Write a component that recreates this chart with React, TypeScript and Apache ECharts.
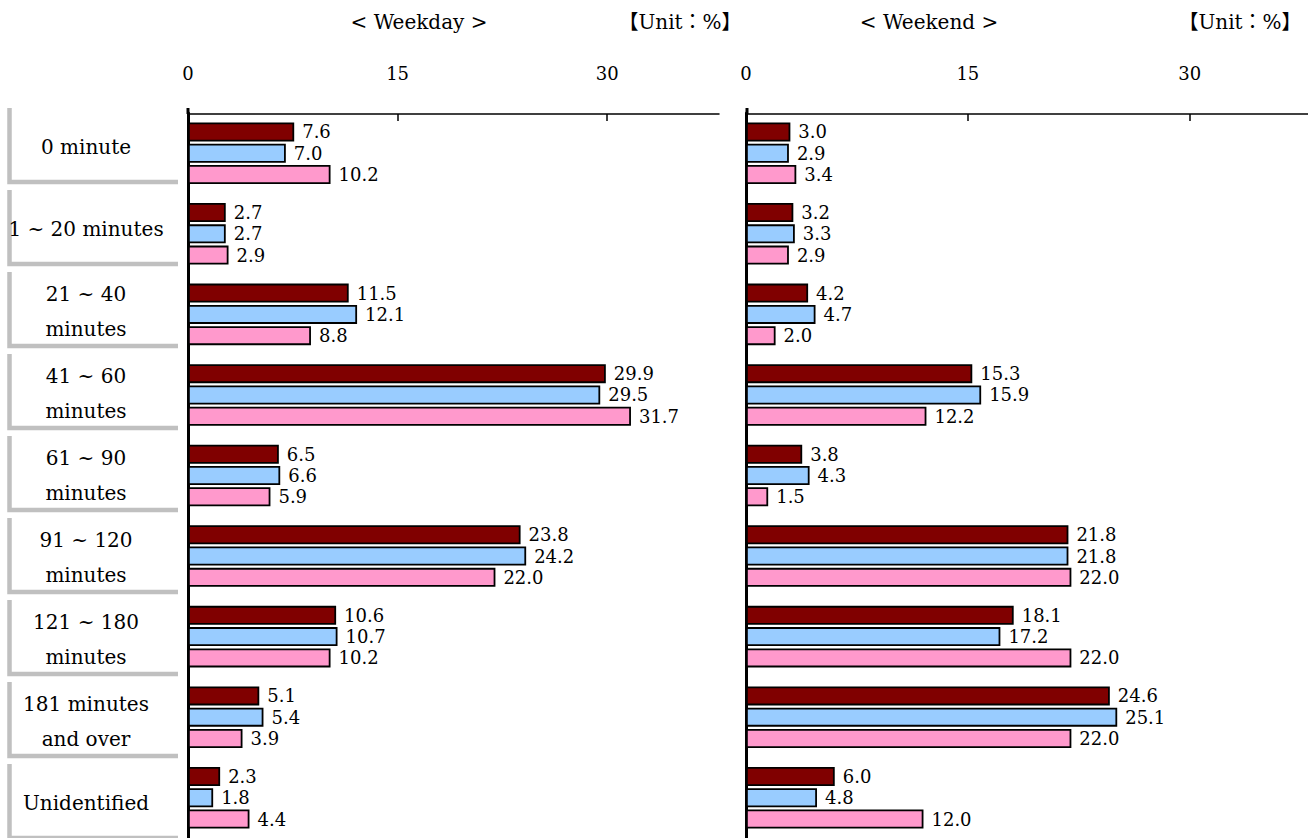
import React, { useEffect, useRef } from "react";
import * as echarts from "echarts";

// Category labels (top to bottom)
const categories = [
  "0 minute",
  "1 ~ 20 minutes",
  "21 ~ 40\nminutes",
  "41 ~ 60\nminutes",
  "61 ~ 90\nminutes",
  "91 ~ 120\nminutes",
  "121 ~ 180\nminutes",
  "181 minutes\nand over",
  "Unidentified",
];

// Weekday values (%)
const weekdayA = [7.6, 2.7, 11.5, 29.9, 6.5, 23.8, 10.6, 5.1, 2.3];
const weekdayB = [7.0, 2.7, 12.1, 29.5, 6.6, 24.2, 10.7, 5.4, 1.8];
const weekdayC = [10.2, 2.9, 8.8, 31.7, 5.9, 22.0, 10.2, 3.9, 4.4];

// Weekend values (%)
const weekendA = [3.0, 3.2, 4.2, 15.3, 3.8, 21.8, 18.1, 24.6, 6.0];
const weekendB = [2.9, 3.3, 4.7, 15.9, 4.3, 21.8, 17.2, 25.1, 4.8];
const weekendC = [3.4, 2.9, 2.0, 12.2, 1.5, 22.0, 22.0, 22.0, 12.0];

const tickValues = [0, 15, 30];
const axisMax = 38;
const panelTitles = ["< Weekday >", "< Weekend >"];
const unitText = "【Unit：%】";
const seriesColors = ["#800000", "#99ccff", "#ff99cc"];

const FONT = "'DejaVu Serif', 'Noto Sans CJK JP', serif";

export default function App() {
  const ref = useRef<HTMLDivElement>(null);

  useEffect(() => {
    document.body.style.margin = "0";
    if (!ref.current) return;
    const chart = echarts.init(ref.current, null, { renderer: "svg" });

    const grids = [
      { left: 188, top: 113, width: 531, height: 729 },
      { left: 746, top: 113, width: 563, height: 729 },
    ];

    const xAxes = grids.map((_, i) => ({
      type: "value",
      gridIndex: i,
      position: "top",
      min: 0,
      max: axisMax,
      interval: 15,
      offset: -1,
      splitLine: { show: false },
      axisLine: { show: true, lineStyle: { color: "#000", width: 1.5 } },
      axisTick: {
        show: true,
        inside: true,
        length: 7,
        customValues: tickValues.filter((v) => v > 0),
        lineStyle: { color: "#000", width: 1.5 },
      },
      axisLabel: {
        customValues: tickValues,
        margin: 32,
        fontFamily: FONT,
        fontSize: 18,
        color: "#000",
      },
    }));

    const yAxes = grids.map((_, i) => ({
      type: "category",
      gridIndex: i,
      inverse: true,
      data: categories,
      axisLine: { show: true, lineStyle: { color: "#000", width: 3 } },
      axisTick: { show: false },
      axisLabel: { show: false },
      splitLine: { show: false },
    }));

    const makeSeries = (name: string, data: number[], color: string, idx: number) => ({
      name,
      type: "bar",
      xAxisIndex: idx,
      yAxisIndex: idx,
      data,
      barWidth: 19,
      barGap: "12%",
      itemStyle: { color, borderColor: "#000", borderWidth: 1.8 },
      label: {
        show: true,
        position: "right",
        distance: 8,
        fontFamily: FONT,
        fontSize: 18,
        color: "#000",
        formatter: (p: any) => Number(p.value).toFixed(1),
      },
    });

    const series = [
      makeSeries("Weekday A", weekdayA, seriesColors[0], 0),
      makeSeries("Weekday B", weekdayB, seriesColors[1], 0),
      makeSeries("Weekday C", weekdayC, seriesColors[2], 0),
      makeSeries("Weekend A", weekendA, seriesColors[0], 1),
      makeSeries("Weekend B", weekendB, seriesColors[1], 1),
      makeSeries("Weekend C", weekendC, seriesColors[2], 1),
    ];

    // Category labels with grey brackets on the left
    const labelGraphics: any[] = [];
    categories.forEach((c, i) => {
      const top = 108 + i * 82;
      const bottom = 182 + i * 82;
      labelGraphics.push({
        type: "polyline",
        shape: { points: [[9.5, top], [9.5, bottom], [178, bottom]] },
        style: { stroke: "#c0c0c0", lineWidth: 4.5, fill: null },
        silent: true,
      });
      labelGraphics.push({
        type: "text",
        x: 86,
        y: 147 + i * 82,
        style: {
          text: c,
          font: `20px ${FONT}`,
          fill: "#000",
          align: "center",
          verticalAlign: "middle",
          lineHeight: 35,
        },
        silent: true,
      });
    });

    const headerGraphics = [
      { x: 419, text: panelTitles[0] },
      { x: 680, text: unitText },
      { x: 929, text: panelTitles[1] },
      { x: 1240, text: unitText },
    ].map((h) => ({
      type: "text",
      x: h.x,
      y: 22,
      style: {
        text: h.text,
        font: `20px ${FONT}`,
        fill: "#000",
        align: "center",
        verticalAlign: "middle",
      },
      silent: true,
    }));

    // short stubs of the vertical axes above the top axis line
    const stubs = [188, 747].map((x) => ({
      type: "line",
      shape: { x1: x, y1: 108, x2: x, y2: 114 },
      style: { stroke: "#000", lineWidth: 3 },
      silent: true,
    }));

    chart.setOption({
      animation: false,
      backgroundColor: "#fff",
      grid: grids,
      xAxis: xAxes,
      yAxis: yAxes,
      series,
      graphic: [...labelGraphics, ...headerGraphics, ...stubs],
    });

    return () => chart.dispose();
  }, []);

  return <div ref={ref} style={{ width: 1308, height: 838 }} />;
}
